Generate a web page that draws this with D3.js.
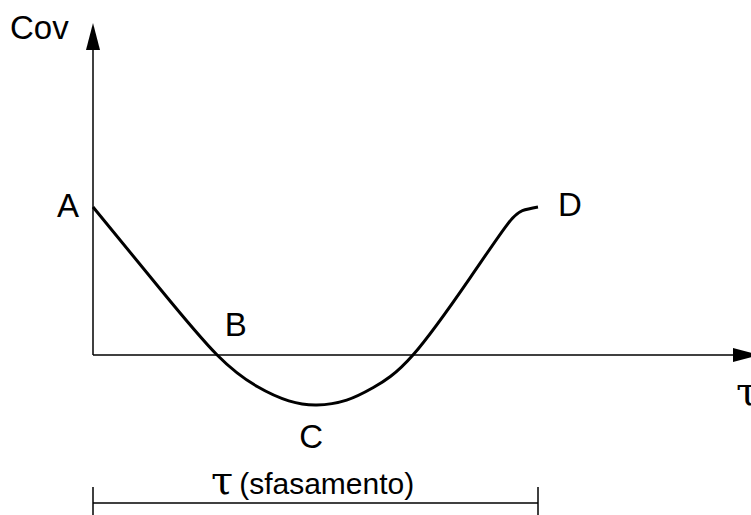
<!doctype html>
<html>
<head>
<meta charset="utf-8"/>
<script src="https://cdnjs.cloudflare.com/ajax/libs/d3/7.8.5/d3.min.js"></script>
<style>
  body { margin: 0; background: #fff; }
  svg { display: block; }
  text { font-family: "Liberation Sans", Arial, sans-serif; fill: #000; }
</style>
</head>
<body>
<svg width="751" height="515"></svg>
<script>
// curve: tau (lag) vs covariance
var tau = [0, 1.51, 2.79, 3.7, 4.4, 5.03, 5.7, 6.3, 7.19, 8.47, 9.3, 9.65, 10]
var cov = [1.0, 0.446, 0, -0.215, -0.31, -0.338, -0.305, -0.22, 0, 0.52, 0.878, 0.975, 1.0]

// point labels
var labelNames = ["A", "B", "C", "D"]
var labelTau = [-0.56, 3.21, 4.9, 10.72]
var labelCov = [0.93, 0.128, -0.628, 0.94]

var svg = d3.select("svg")

var x = d3.scaleLinear().domain([0, 10]).range([93, 538])
var y = d3.scaleLinear().domain([0, 1]).range([355, 207])

var xEnd = x.invert(760), yTop = y.invert(23)

// axes
svg.append("line")
  .attr("x1", x(0)).attr("y1", y(0))
  .attr("x2", x(0)).attr("y2", y(yTop) + 26)
  .attr("stroke", "#000").attr("stroke-width", 1.5)
svg.append("path")
  .attr("d", "M" + x(0) + "," + y(yTop) + "L" + (x(0) - 7) + "," + (y(yTop) + 27) + "L" + (x(0) + 7) + "," + (y(yTop) + 27) + "Z")

svg.append("line")
  .attr("x1", x(0)).attr("y1", y(0))
  .attr("x2", x(xEnd) - 26).attr("y2", y(0))
  .attr("stroke", "#000").attr("stroke-width", 1.5)
svg.append("path")
  .attr("d", "M" + x(xEnd) + "," + y(0) + "L" + (x(xEnd) - 27) + "," + (y(0) - 7) + "L" + (x(xEnd) - 27) + "," + (y(0) + 7) + "Z")

// the curve
var line = d3.line()
  .x((d, i) => x(tau[i]))
  .y((d, i) => y(d))
  .curve(d3.curveNatural)

svg.append("path")
  .datum(cov)
  .attr("d", line)
  .attr("fill", "none")
  .attr("stroke", "#000")
  .attr("stroke-width", 3)

svg.selectAll(".lbl")
  .data(labelNames)
  .enter()
  .append("text")
  .attr("class", "lbl")
  .attr("x", (d, i) => x(labelTau[i]))
  .attr("y", (d, i) => y(labelCov[i]))
  .attr("text-anchor", "middle")
  .style("font-size", "33px")
  .text(d => d)

svg.append("text")
  .attr("x", 10).attr("y", 39)
  .style("font-size", "33px")
  .text("Cov")

svg.append("text")
  .attr("x", 736).attr("y", 405)
  .style("font-family", "'DejaVu Serif', serif")
  .style("font-size", "40px")
  .text("τ")

// lag bracket
var by = 503
svg.append("line")
  .attr("x1", x(0)).attr("x2", x(10)).attr("y1", by).attr("y2", by)
  .attr("stroke", "#000").attr("stroke-width", 1.5)
svg.selectAll(".tick")
  .data([0, 10])
  .enter()
  .append("line")
  .attr("x1", d => x(d)).attr("x2", d => x(d))
  .attr("y1", 487).attr("y2", 515)
  .attr("stroke", "#000").attr("stroke-width", 1.5)

var t = svg.append("text")
  .attr("x", 211).attr("y", 494)
t.append("tspan")
  .style("font-family", "'DejaVu Serif', serif")
  .style("font-size", "40px")
  .text("τ")
t.append("tspan")
  .attr("dx", 6)
  .style("font-size", "30px")
  .text("(sfasamento)")
</script>
</body>
</html>
